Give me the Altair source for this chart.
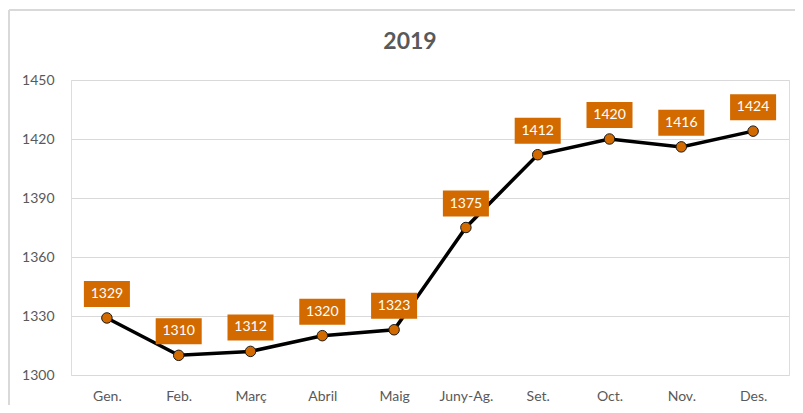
import altair as alt
import pandas as pd

months = ["Gen.", "Feb.", "Març", "Abril", "Maig", "Juny-Ag.", "Set.", "Oct.", "Nov.", "Des."]
values = [1329, 1310, 1312, 1320, 1323, 1375, 1412, 1420, 1416, 1424]
y_ticks = [1300, 1330, 1360, 1390, 1420, 1450]
title_text = ["2019"]

df = pd.DataFrame({"month": months, "value": values})

ORANGE = "#D26A00"
GREY = "#595959"
FONT = "Lato"

x = alt.X("month:N", sort=months, scale=alt.Scale(padding=0.5),
          axis=alt.Axis(title=None, labelAngle=0, labelFont=FONT, labelFontSize=14,
                        labelColor=GREY, ticks=False, domain=False, grid=False, labelPadding=14))
y = alt.Y("value:Q", scale=alt.Scale(domain=[1300, 1450], nice=False, zero=False),
          axis=alt.Axis(title=None, values=y_ticks, format="d", labelFont=FONT, labelFontSize=14,
                        labelColor=GREY, ticks=False, domain=False, grid=True,
                        gridColor="#D9D9D9", gridWidth=1, labelPadding=17))

base = alt.Chart(df)

border_top = base.mark_rule(color="#D9D9D9", strokeWidth=1.5).encode(
    x=alt.value(-62), x2=alt.value(724), y=alt.value(-70))
border_left = base.mark_rule(color="#D9D9D9", strokeWidth=1.5).encode(
    x=alt.value(-62), y=alt.value(-70), y2=alt.value(400))

title = alt.Chart(pd.DataFrame({"t": title_text})).mark_text(
    font=FONT, fontSize=23, fontWeight="bold", color=GREY, baseline="middle"
).encode(x=alt.value(339), y=alt.value(-38), text="t:N")

line = base.mark_line(color="black", strokeWidth=3.5).encode(x=x, y=y)
points = base.mark_point(filled=True, fill=ORANGE, stroke="#1a1a1a", strokeWidth=1,
                         size=110, opacity=1).encode(x=x, y=y)
boxes = base.mark_point(shape="M-1.77,-1H1.77V1H-1.77Z", filled=True, fill=ORANGE,
                        strokeWidth=0, size=676, opacity=1, yOffset=-24).encode(x=x, y=y)
labels = base.mark_text(color="white", font=FONT, fontSize=14, yOffset=-24,
                        baseline="middle").encode(x=x, y=y, text=alt.Text("value:Q"))

chart = alt.layer(border_top, border_left, title, line, points, boxes, labels).properties(
    width=718, height=295,
    padding={"left": 63, "top": 72, "right": 6, "bottom": 30},
    autosize=alt.AutoSizeParams(type="none"),
).configure_view(stroke=None).configure(background="white")

chart.save("out.html", embed_options={"renderer": "svg", "actions": False})
